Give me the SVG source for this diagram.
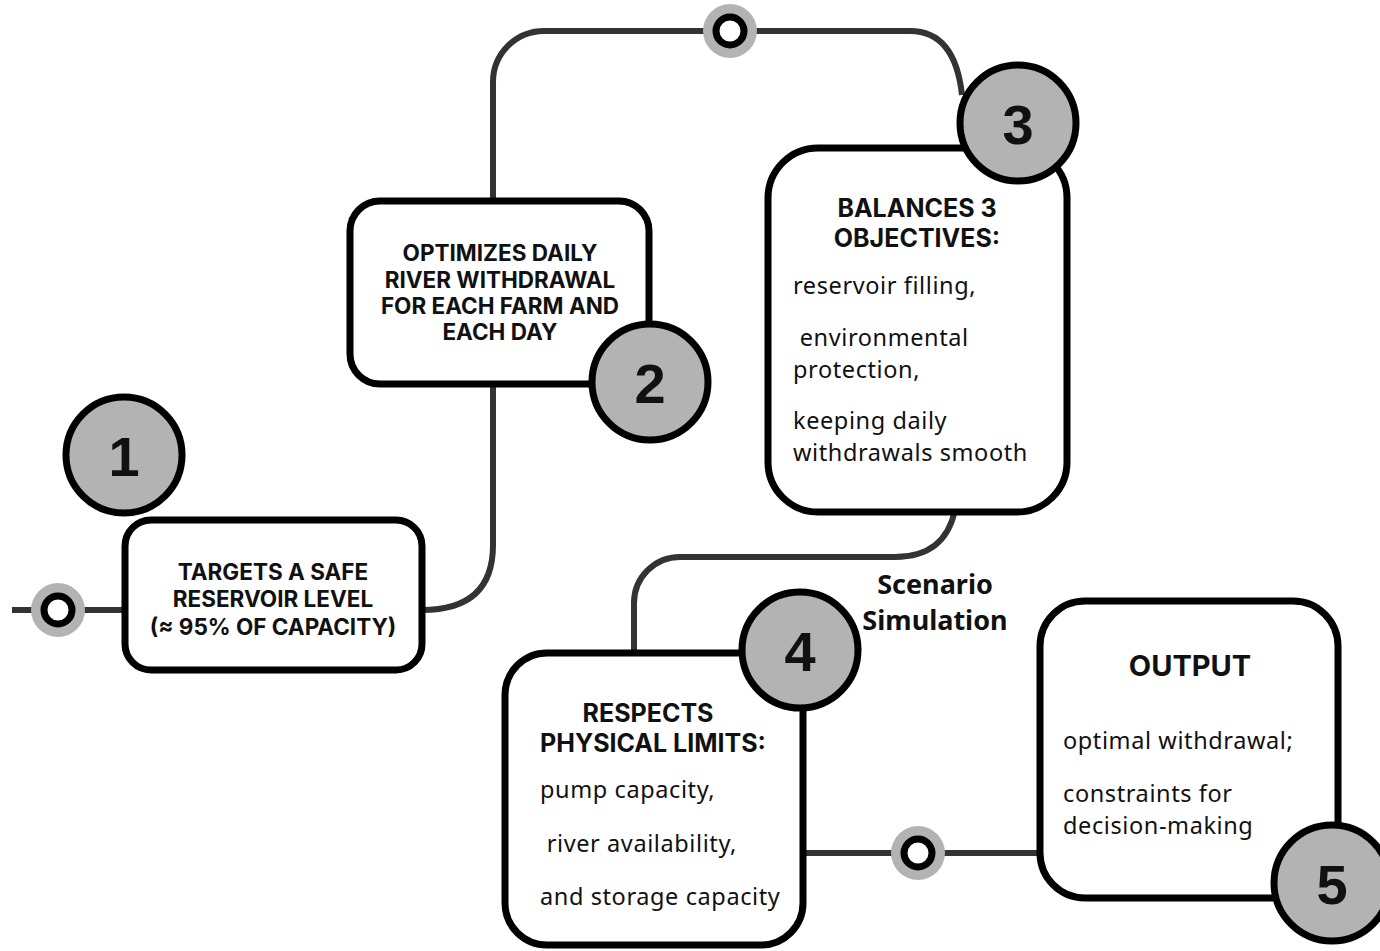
<svg xmlns="http://www.w3.org/2000/svg" width="1380" height="951" viewBox="0 0 1380 951">
  <style>
    .wire { fill: none; stroke: #333333; stroke-width: 6; }
    .box { fill: #ffffff; stroke: #000000; stroke-width: 7; }
    .badge { fill: #b3b3b3; stroke: #000000; stroke-width: 7; }
    .num { font-family: "Liberation Sans", Arial, sans-serif; font-weight: bold; font-size: 56px; fill: #111111; text-anchor: middle; }
    .head { font-family: Inter, "Liberation Sans", sans-serif; font-weight: bold; font-size: 22.5px; fill: #111111; text-anchor: middle; }
    .title { font-family: Inter, "Liberation Sans", sans-serif; font-weight: bold; font-size: 25px; fill: #111111; text-anchor: middle; }
    .body { font-family: "Noto Sans", "Liberation Sans", sans-serif; font-size: 23.5px; letter-spacing: 0.6px; fill: #111111; }
    .label { font-family: "Noto Sans", "Liberation Sans", sans-serif; font-weight: bold; font-size: 27px; fill: #111111; text-anchor: middle; }
  </style>
  <defs>
    <g id="stop">
      <circle r="27" fill="#b3b3b3"/>
      <circle r="14" fill="#ffffff" stroke="#000000" stroke-width="7"/>
    </g>
  </defs>
  <rect width="1380" height="951" fill="#ffffff"/>

  <!-- connectors -->
  <g id="connectors">
    <line class="wire" x1="12" y1="610" x2="125" y2="610"/>
    <path class="wire" d="M 422 610 Q 493 610 493 545 L 493 82 A 51 51 0 0 1 544 31 L 910 31 Q 955 31 962 95"/>
    <path class="wire" d="M 955 510 Q 945 557 895 557 L 680 557 A 46 46 0 0 0 634 603 L 634 653"/>
    <line class="wire" x1="803" y1="853" x2="1040" y2="853"/>
    <use href="#stop" x="58" y="610"/>
    <use href="#stop" x="730" y="31"/>
    <use href="#stop" x="918" y="853"/>
  </g>

  <!-- step 1 -->
  <g id="node1">
    <circle class="badge" cx="124" cy="455" r="58"/>
    <text class="num" x="124" y="476">1</text>
    <rect class="box" x="125" y="520" width="297" height="150" rx="26"/>
    <text class="head" x="273" y="580">TARGETS A SAFE</text>
    <text class="head" x="273" y="607">RESERVOIR LEVEL</text>
    <text class="head" x="273" y="635">(≈ 95% OF CAPACITY)</text>
  </g>

  <!-- step 2 -->
  <g id="node2">
    <rect class="box" x="350" y="201" width="299" height="183" rx="30"/>
    <text class="head" x="500" y="261">OPTIMIZES DAILY</text>
    <text class="head" x="500" y="288">RIVER WITHDRAWAL</text>
    <text class="head" x="500" y="314">FOR EACH FARM AND</text>
    <text class="head" x="500" y="340">EACH DAY</text>
    <circle class="badge" cx="650" cy="382" r="58"/>
    <text class="num" x="650" y="403">2</text>
  </g>

  <!-- step 3 -->
  <g id="node3">
    <rect class="box" x="768" y="148" width="299" height="364" rx="50"/>
    <circle class="badge" cx="1018" cy="123" r="58"/>
    <text class="num" x="1018" y="144">3</text>
    <text class="title" x="917" y="217">BALANCES 3</text>
    <text class="title" x="917" y="247">OBJECTIVES:</text>
    <text class="body" x="793" y="294">reservoir filling,</text>
    <text class="body" x="793" y="346" xml:space="preserve"> environmental</text>
    <text class="body" x="793" y="378">protection,</text>
    <text class="body" x="793" y="429">keeping daily</text>
    <text class="body" x="793" y="461">withdrawals smooth</text>
  </g>

  <!-- step 4 -->
  <g id="node4">
    <rect class="box" x="505" y="653" width="298" height="292" rx="42"/>
    <circle class="badge" cx="800" cy="650" r="58"/>
    <text class="num" x="800" y="671">4</text>
    <text class="title" x="648" y="722">RESPECTS</text>
    <text class="title" x="653" y="752">PHYSICAL LIMITS:</text>
    <text class="body" x="540" y="798">pump capacity,</text>
    <text class="body" x="540" y="852" xml:space="preserve"> river availability,</text>
    <text class="body" x="540" y="905">and storage capacity</text>
  </g>

  <!-- scenario label -->
  <g id="scenario">
    <text class="label" x="935" y="594">Scenario</text>
    <text class="label" x="935" y="630">Simulation</text>
  </g>

  <!-- step 5 -->
  <g id="node5">
    <rect class="box" x="1040" y="601" width="298" height="297" rx="45"/>
    <text class="title" x="1190" y="676" style="font-size:29px">OUTPUT</text>
    <text class="body" x="1063" y="749">optimal withdrawal;</text>
    <text class="body" x="1063" y="802">constraints for</text>
    <text class="body" x="1063" y="834">decision-making</text>
    <circle class="badge" cx="1332" cy="883" r="58"/>
    <text class="num" x="1332" y="904">5</text>
  </g>
</svg>
